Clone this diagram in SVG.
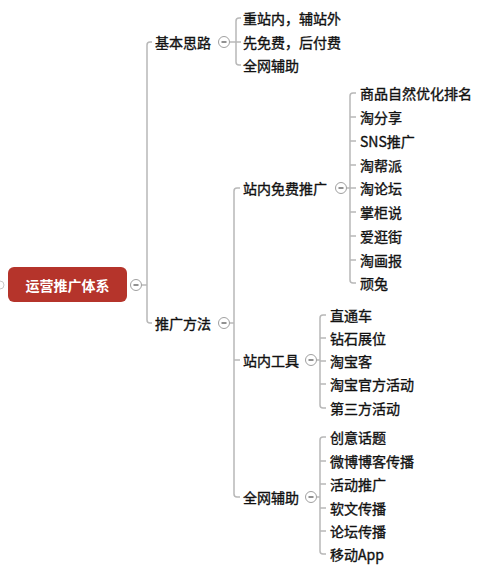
<svg xmlns="http://www.w3.org/2000/svg" width="500" height="569" viewBox="0 0 500 569">
<style>
.t{font-family:"Noto Sans CJK SC","Liberation Sans",sans-serif;font-size:14px;fill:#111;stroke:#111;stroke-width:0.35;dominant-baseline:central}
.root{font-family:"Noto Sans CJK SC","Liberation Sans",sans-serif;font-size:14px;font-weight:bold;fill:#ffffff;dominant-baseline:central;text-anchor:middle}
.ln{fill:none;stroke:#b8b8b8;stroke-width:1.5}
.cb circle{fill:#fff;stroke:#a0a0a0;stroke-width:1}
.cb line{stroke:#555;stroke-width:1.3}
</style>
<defs>
<g id="minus" class="cb"><circle cx="0" cy="0" r="5.5"/><line x1="-2.5" y1="0" x2="2.5" y2="0"/></g>
</defs>
<rect width="500" height="569" fill="#ffffff"/>
<g id="connectors">
<circle cx="0" cy="285" r="4" fill="#fff" stroke="#c8c8c8" stroke-width="1"/>
<path class="ln" d="M141.5,285 H147"/>
<path class="ln" d="M152,42 H150 Q147,42 147,45 V320 Q147,323 150,323 H152"/>
<path class="ln" d="M229.5,42 H236"/>
<path class="ln" d="M241,18 H239 Q236,18 236,21 V62 Q236,65 239,65 H241 M236,42 H241"/>
<path class="ln" d="M229.5,323 H234"/>
<path class="ln" d="M240,188 H237 Q234,188 234,191 V494 Q234,497 237,497 H240 M234,360 H240"/>
<path class="ln" d="M346.5,188 H350"/>
<path class="ln" d="M356,93 H353 Q350,93 350,96 V280 Q350,283 353,283 H356 M350,117 H356 M350,141 H356 M350,165 H356 M350,188 H356 M350,212 H356 M350,236 H356 M350,260 H356"/>
<path class="ln" d="M316.5,360 H320"/>
<path class="ln" d="M326,315 H323 Q320,315 320,318 V405 Q320,408 323,408 H326 M320,338 H326 M320,361 H326 M320,384 H326"/>
<path class="ln" d="M316.5,497 H320"/>
<path class="ln" d="M326,437 H323 Q320,437 320,440 V551 Q320,554 323,554 H326 M320,461 H326 M320,484 H326 M320,508 H326 M320,531 H326"/>
</g>
<g id="root">
<rect x="8" y="267" width="119" height="35" rx="6" fill="#b5342b"/>
<text class="root" x="67.5" y="285">运营推广体系</text>
<use href="#minus" x="136" y="285"/>
</g>
<g id="n-jbsl">
<text class="t" x="155" y="42">基本思路</text>
<use href="#minus" x="224" y="42"/>
</g>
<g id="n-jbsl-1"><text class="t" x="243" y="18">重站内，辅站外</text></g>
<g id="n-jbsl-2"><text class="t" x="243" y="42">先免费，后付费</text></g>
<g id="n-jbsl-3"><text class="t" x="243" y="65">全网辅助</text></g>
<g id="n-tgff">
<text class="t" x="155" y="323">推广方法</text>
<use href="#minus" x="224" y="323"/>
</g>
<g id="n-znmf">
<text class="t" x="243" y="188">站内免费推广</text>
<use href="#minus" x="341" y="188"/>
</g>
<g id="n-znmf-1"><text class="t" x="360" y="93">商品自然优化排名</text></g>
<g id="n-znmf-2"><text class="t" x="360" y="117">淘分享</text></g>
<g id="n-znmf-3"><text class="t" x="360" y="141">SNS推广</text></g>
<g id="n-znmf-4"><text class="t" x="360" y="165">淘帮派</text></g>
<g id="n-znmf-5"><text class="t" x="360" y="188">淘论坛</text></g>
<g id="n-znmf-6"><text class="t" x="360" y="212">掌柜说</text></g>
<g id="n-znmf-7"><text class="t" x="360" y="236">爱逛街</text></g>
<g id="n-znmf-8"><text class="t" x="360" y="260">淘画报</text></g>
<g id="n-znmf-9"><text class="t" x="360" y="283">顽兔</text></g>
<g id="n-zngj">
<text class="t" x="243" y="360">站内工具</text>
<use href="#minus" x="311" y="360"/>
</g>
<g id="n-zngj-1"><text class="t" x="330" y="315">直通车</text></g>
<g id="n-zngj-2"><text class="t" x="330" y="338">钻石展位</text></g>
<g id="n-zngj-3"><text class="t" x="330" y="361">淘宝客</text></g>
<g id="n-zngj-4"><text class="t" x="330" y="384">淘宝官方活动</text></g>
<g id="n-zngj-5"><text class="t" x="330" y="408">第三方活动</text></g>
<g id="n-qwfz">
<text class="t" x="243" y="497">全网辅助</text>
<use href="#minus" x="311" y="497"/>
</g>
<g id="n-qwfz-1"><text class="t" x="330" y="437">创意话题</text></g>
<g id="n-qwfz-2"><text class="t" x="330" y="461">微博博客传播</text></g>
<g id="n-qwfz-3"><text class="t" x="330" y="484">活动推广</text></g>
<g id="n-qwfz-4"><text class="t" x="330" y="508">软文传播</text></g>
<g id="n-qwfz-5"><text class="t" x="330" y="531">论坛传播</text></g>
<g id="n-qwfz-6"><text class="t" x="330" y="554">移动App</text></g>
</svg>
